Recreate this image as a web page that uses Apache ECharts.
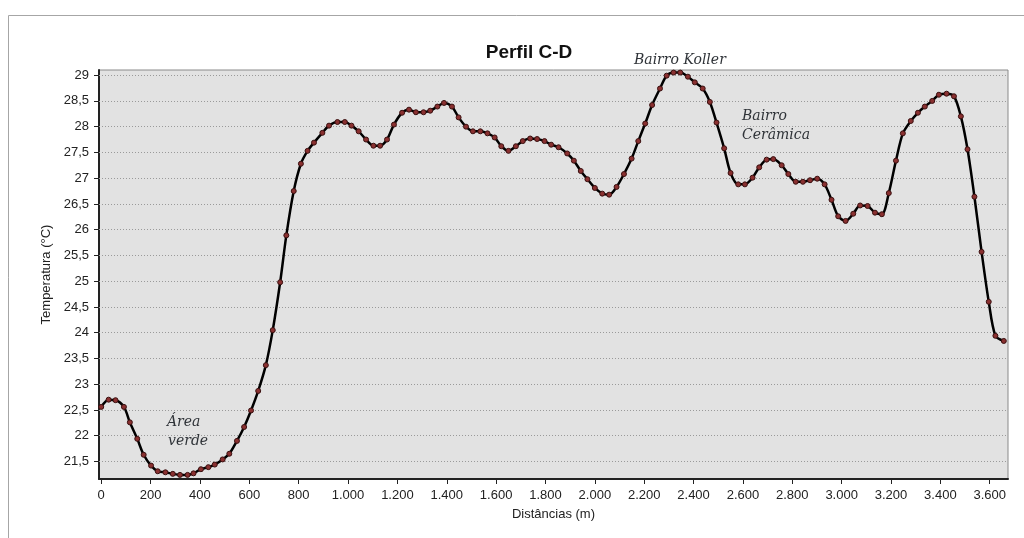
<!DOCTYPE html>
<html>
<head>
<meta charset="utf-8">
<script src="https://cdn.jsdelivr.net/npm/echarts@6/dist/echarts.min.js"></script>
<style>
  html, body { margin: 0; padding: 0; background: #ffffff; }
  #chart { width: 1024px; height: 538px; }
</style>
</head>
<body>
<div id="chart"></div>
<script>
// Distância ao longo do perfil (m)
const distances = [
  0, 30, 58, 92, 116, 146, 172, 202, 229, 260, 290, 319, 350, 374, 404, 434, 460, 492, 519, 550,
  579, 607, 636, 667, 695, 725, 750, 780, 809, 836, 862, 896, 923,
  957, 987, 1014, 1043, 1073, 1103, 1130, 1158, 1186, 1219, 1247, 1275, 1306, 1333, 1362, 1389, 1421, 1448,
  1478, 1506, 1536, 1565, 1594, 1621, 1650, 1680, 1708, 1738, 1766, 1796, 1823, 1853,
  1888, 1915, 1943, 1970, 2000, 2030, 2058, 2088, 2118, 2149, 2176, 2204, 2232, 2264, 2291, 2319, 2346,
  2377, 2405, 2437, 2466, 2493, 2524, 2550, 2581, 2608, 2639, 2666, 2696, 2723, 2757, 2784,
  2814, 2843, 2872, 2901, 2931, 2959, 2986, 3016, 3047, 3075, 3105, 3135, 3163, 3191, 3220, 3248,
  3280, 3309, 3337, 3367, 3394, 3425, 3455, 3483, 3510, 3538, 3567, 3596, 3623, 3657
];

// Temperatura (°C) em cada ponto
const temperatures = [
  22.56, 22.70, 22.69, 22.56, 22.26, 21.94, 21.63, 21.42, 21.31, 21.29, 21.26, 21.24, 21.24, 21.27, 21.35, 21.39, 21.44, 21.54, 21.65, 21.90,
  22.17, 22.49, 22.87, 23.37, 24.05, 24.98, 25.89, 26.75, 27.28, 27.53, 27.69, 27.88, 28.02,
  28.09, 28.09, 28.02, 27.91, 27.75, 27.63, 27.63, 27.75, 28.04, 28.27, 28.33, 28.28, 28.28, 28.31, 28.39, 28.46, 28.39, 28.18,
  28.00, 27.91, 27.91, 27.87, 27.79, 27.62, 27.53, 27.62, 27.72, 27.77, 27.76, 27.72, 27.65, 27.60,
  27.48, 27.34, 27.14, 26.98, 26.81, 26.70, 26.68, 26.83, 27.08, 27.38, 27.72, 28.06, 28.42, 28.74, 28.99, 29.05, 29.05,
  28.97, 28.86, 28.74, 28.48, 28.08, 27.58, 27.10, 26.88, 26.88, 27.01, 27.21, 27.36, 27.37, 27.25, 27.08,
  26.93, 26.93, 26.96, 26.99, 26.88, 26.58, 26.26, 26.17, 26.31, 26.47, 26.46, 26.33, 26.30, 26.71, 27.34, 27.87,
  28.11, 28.27, 28.39, 28.50, 28.62, 28.64, 28.59, 28.20, 27.56, 26.64, 25.57, 24.60, 23.94, 23.84
];

// Marcas dos eixos
const yTicks = [21.5, 22, 22.5, 23, 23.5, 24, 24.5, 25, 25.5, 26, 26.5, 27, 27.5, 28, 28.5, 29];
const xTicks = [0, 200, 400, 600, 800, 1000, 1200, 1400, 1600, 1800, 2000, 2200, 2400, 2600, 2800, 3000, 3200, 3400, 3600];

const profile = distances.map((d, i) => [d, temperatures[i]]);

const fmtDecimal = v => String(v).replace('.', ',');
const fmtThousands = v => {
  const s = String(Math.round(v));
  return s.replace(/\B(?=(\d{3})+(?!\d))/g, '.');
};

const labelFont = { fontFamily: 'Liberation Sans', fontSize: 13, color: '#222' };
const noteFont = { fontFamily: 'DejaVu Serif', fontStyle: 'italic', fontSize: 14, fill: '#2f3338' };

const chart = echarts.init(document.getElementById('chart'), null, { renderer: 'canvas' });

chart.setOption({
  animation: false,
  backgroundColor: '#ffffff',
  title: {
    text: 'Perfil C-D',
    left: 524,
    top: 38,
    textAlign: 'center',
    textStyle: { fontFamily: 'Liberation Sans', fontWeight: 'bold', fontSize: 19, color: '#111' }
  },
  grid: {
    left: 99, top: 70, right: 16, bottom: 59,
    show: true,
    backgroundColor: '#e2e2e2',
    borderColor: '#8a8a8a',
    borderWidth: 1
  },
  xAxis: {
    type: 'value',
    min: -9,
    max: 3674,
    name: 'Distâncias (m)',
    nameLocation: 'middle',
    nameGap: 29,
    nameTextStyle: labelFont,
    axisLine: { show: true, onZero: false, lineStyle: { color: '#222', width: 2 } },
    axisTick: { show: true, length: 5, customValues: xTicks, lineStyle: { color: '#222', width: 1 } },
    axisLabel: Object.assign({ margin: 10, customValues: xTicks, formatter: fmtThousands }, labelFont),
    splitLine: { show: false }
  },
  yAxis: {
    type: 'value',
    min: 21.16,
    max: 29.1,
    name: 'Temperatura (°C)',
    nameLocation: 'middle',
    nameGap: 40,
    nameTextStyle: labelFont,
    axisLine: { show: true, onZero: false, lineStyle: { color: '#222', width: 2 } },
    axisTick: { show: true, length: 5, customValues: yTicks, lineStyle: { color: '#222', width: 1 } },
    axisLabel: Object.assign({ margin: 10, customValues: yTicks, formatter: fmtDecimal }, labelFont),
    splitLine: { show: false }
  },
  series: [
    {
      // linhas de grade horizontais pontilhadas
      type: 'line',
      data: [],
      z: 1,
      silent: true,
      markLine: {
        silent: true,
        symbol: 'none',
        label: { show: false },
        lineStyle: { color: '#9a9a9a', type: [1, 2], width: 1 },
        data: yTicks.map(v => ({ yAxis: v }))
      }
    },
    {
      type: 'line',
      data: profile,
      z: 5,
      smooth: 0.3,
      symbol: 'circle',
      symbolSize: 5,
      lineStyle: { color: '#000', width: 2.5 },
      itemStyle: { color: '#8a3030', borderColor: '#3a1010', borderWidth: 1 }
    }
  ],
  graphic: [
    {
      type: 'rect',
      shape: { x: 8.5, y: 15.5, width: 1040, height: 560 },
      style: { fill: 'none', stroke: '#a6a6a6', lineWidth: 1 },
      silent: true,
      z: -10
    },
    { type: 'text', left: 167, top: 415, style: Object.assign({ text: 'Área' }, noteFont), z: 100 },
    { type: 'text', left: 168, top: 434, style: Object.assign({ text: 'verde' }, noteFont), z: 100 },
    { type: 'text', left: 634, top: 53, style: Object.assign({ text: 'Bairro Koller' }, noteFont), z: 100 },
    { type: 'text', left: 742, top: 109, style: Object.assign({ text: 'Bairro' }, noteFont), z: 100 },
    { type: 'text', left: 742, top: 128, style: Object.assign({ text: 'Cerâmica' }, noteFont), z: 100 }
  ]
});
</script>
</body>
</html>
